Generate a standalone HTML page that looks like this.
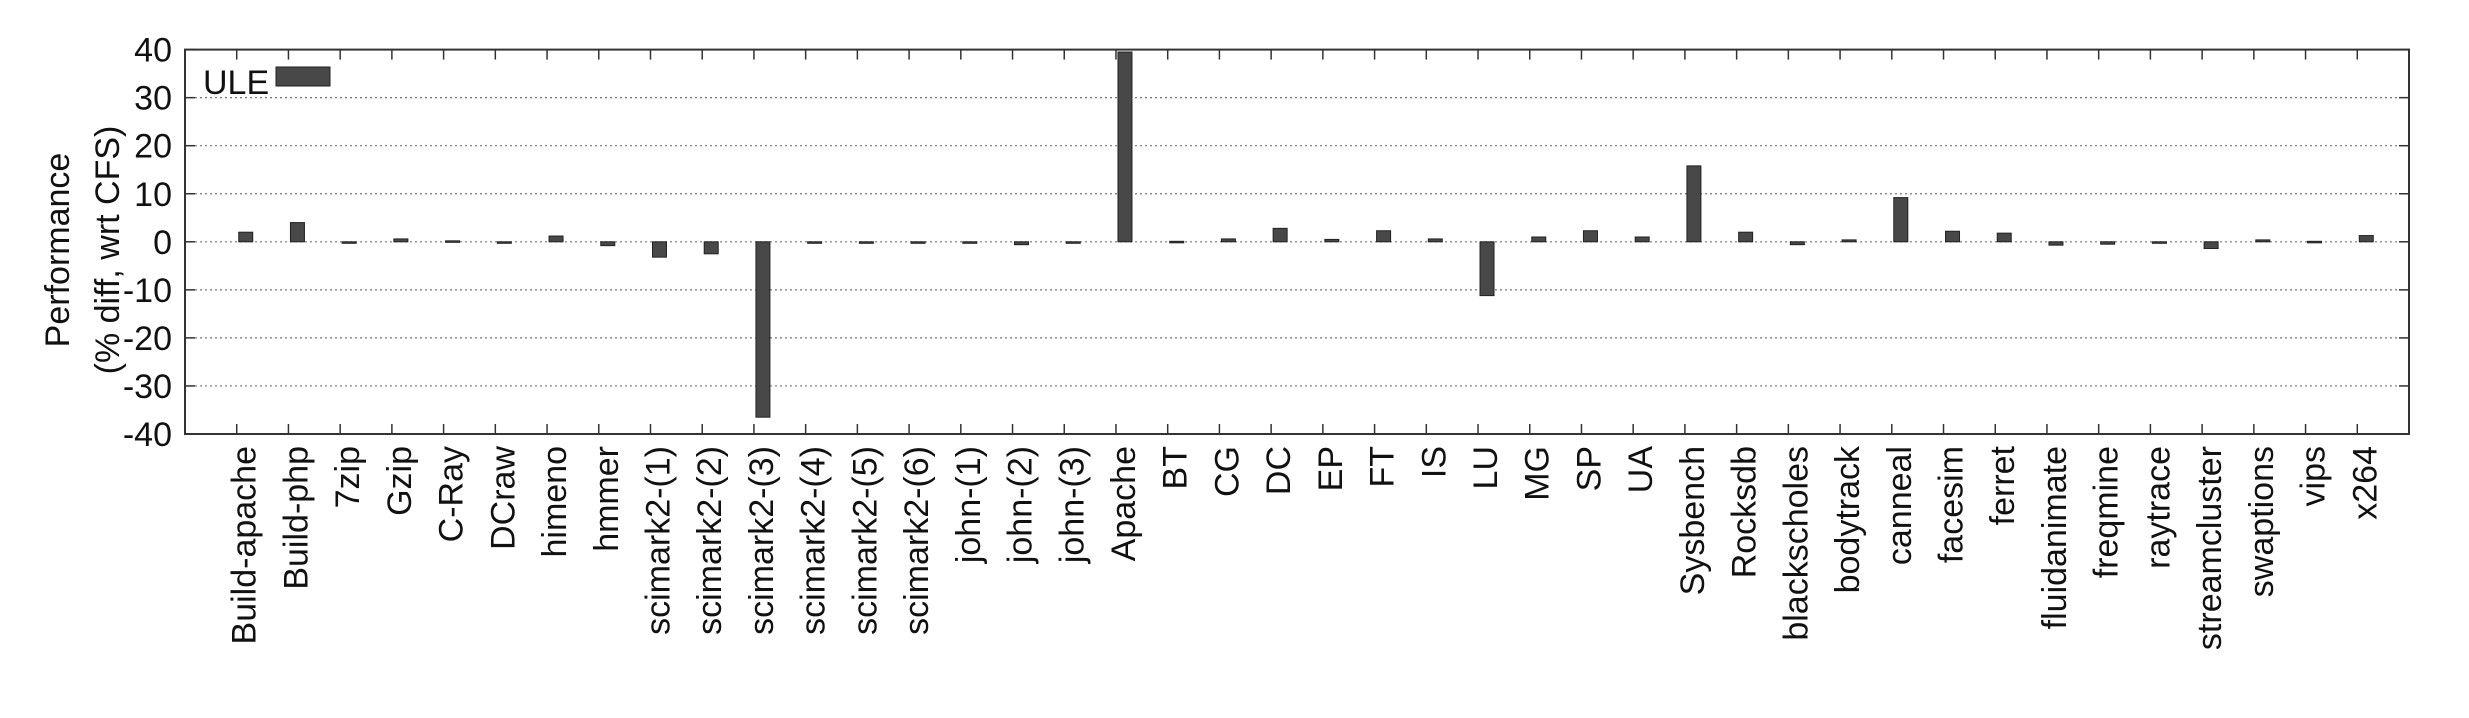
<!DOCTYPE html>
<html><head><meta charset="utf-8"><style>
html,body{margin:0;padding:0;background:#fff;}
svg{display:block;font-family:"Liberation Sans",sans-serif;}
</style></head><body>
<svg id="chart" width="2469" height="718" viewBox="0 0 2469 718" xmlns="http://www.w3.org/2000/svg"></svg>
<script>
const categories = ["Build-apache","Build-php","7zip","Gzip","C-Ray","DCraw","himeno","hmmer","scimark2-(1)","scimark2-(2)","scimark2-(3)","scimark2-(4)","scimark2-(5)","scimark2-(6)","john-(1)","john-(2)","john-(3)","Apache","BT","CG","DC","EP","FT","IS","LU","MG","SP","UA","Sysbench","Rocksdb","blackscholes","bodytrack","canneal","facesim","ferret","fluidanimate","freqmine","raytrace","streamcluster","swaptions","vips","x264"];
const uleValues = [2,4,-0.3,0.6,0.2,-0.2,1.2,-0.8,-3.2,-2.5,-36.5,-0.2,-0.3,-0.2,-0.2,-0.6,-0.3,39.5,0.1,0.6,2.8,0.5,2.3,0.6,-11.2,1,2.3,1,15.8,2,-0.6,0.4,9.2,2.2,1.8,-0.7,-0.5,-0.2,-1.4,0.4,0.1,1.3];
const yTicks = [-40,-30,-20,-10,0,10,20,30,40];

const NS="http://www.w3.org/2000/svg";
const svg=document.getElementById('chart');
const L=185,R=2409,T=49.6,B=434;
const yMin=-40,yMax=40;
const FS=34;
function y(v){return B-(v-yMin)/(yMax-yMin)*(B-T);}
function x(i){return L+(i+1)*(R-L)/(categories.length+1);}
function mk(tag,attrs){const e=document.createElementNS(NS,tag);for(const k in attrs)e.setAttribute(k,attrs[k]);svg.appendChild(e);return e;}

yTicks.forEach(t=>{
  if(t>yMin&&t<yMax){
    const g=mk('line',{x1:L,x2:R,y1:y(t),y2:y(t),stroke:'#777','stroke-width':1.2,'stroke-dasharray':'2,3'});
    
    
  }
  const tl=mk('line',{x1:L,x2:L+10,y1:y(t),y2:y(t),stroke:'#333','stroke-width':1.5});
  
  
  const tr=mk('line',{x1:R-10,x2:R,y1:y(t),y2:y(t),stroke:'#333','stroke-width':1.5});
  
  
  const lb=mk('text',{x:172,y:y(t)+12,'text-anchor':'end','font-size':FS,fill:'#111'});
  lb.textContent=t;
  
  
});

categories.forEach((c,i)=>{
  const xc=x(i);
  const tb=mk('line',{x1:xc,x2:xc,y1:B,y2:B-10,stroke:'#333','stroke-width':1.5});
  
  
  const tt=mk('line',{x1:xc,x2:xc,y1:T,y2:T+10,stroke:'#333','stroke-width':1.5});
  
  
  const v=uleValues[i];
  const y0=y(0),yv=y(v);
  const bar=mk('rect',{x:xc+2,y:Math.min(y0,yv),width:14,height:Math.max(1.5,Math.abs(yv-y0)),fill:'#484848',stroke:'#222','stroke-width':1});
  
  
  const lb=mk('text',{x:0,y:0,'text-anchor':'end','font-size':FS,fill:'#111',transform:`translate(${xc+19},446) rotate(-90)`});
  lb.textContent=c;
  
  
});

const fr=mk('rect',{x:L,y:T,width:R-L,height:B-T,fill:'none',stroke:'#333','stroke-width':2});



const lt=mk('text',{x:203,y:94,'font-size':FS,fill:'#111'});
lt.textContent='ULE';


const ls=mk('rect',{x:276,y:67,width:54,height:19,fill:'#484848',stroke:'#222','stroke-width':1});



const t1=mk('text',{x:0,y:0,'text-anchor':'middle','font-size':FS,fill:'#111',transform:'translate(69,250) rotate(-90)'});
t1.textContent='Performance';


const t2=mk('text',{x:0,y:0,'text-anchor':'middle','font-size':FS,fill:'#111',transform:'translate(119,250) rotate(-90)'});
t2.textContent='(% diff, wrt CFS)';


</script>
</body></html>
